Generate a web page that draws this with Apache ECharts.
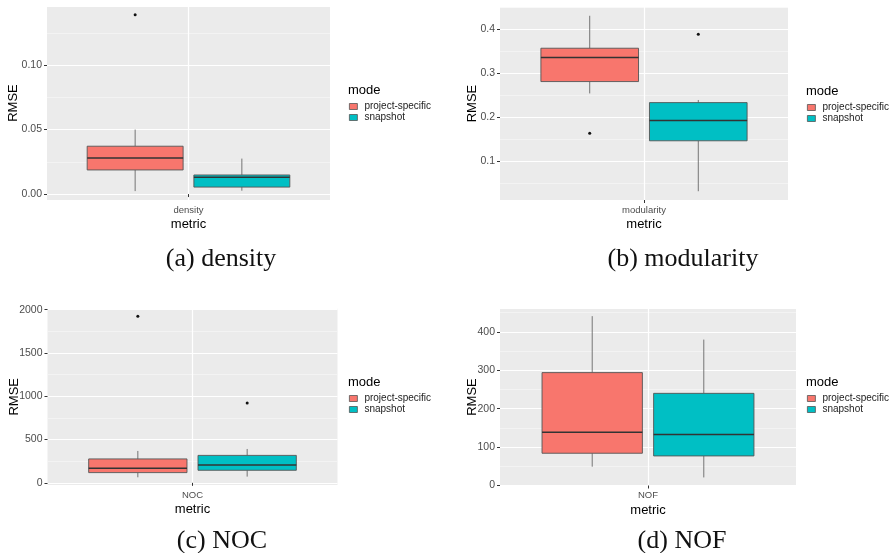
<!DOCTYPE html>
<html><head><meta charset="utf-8">
<script src="https://cdn.jsdelivr.net/npm/echarts@6/dist/echarts.min.js"></script>
<style>html,body{margin:0;padding:0;background:#fff}#c{width:894px;height:553px}</style>
</head><body><div id="c"></div>
<script>
// ---- data ----
const metrics = ['density', 'modularity', 'NOC', 'NOF'];
const modes = ['project-specific', 'snapshot'];
const captions = ['(a) density', '(b) modularity', '(c) NOC', '(d) NOF'];
// box stats: [lower whisker, Q1, median, Q3, upper whisker]
const densityPS = [0.0023, 0.0187, 0.028, 0.0371, 0.050];
const densitySnap = [0.0026, 0.0054, 0.013, 0.0148, 0.0275];
const densityPSOut = [0.139];
const densitySnapOut = [];
const modularityPS = [0.254, 0.281, 0.336, 0.357, 0.431];
const modularitySnap = [0.031, 0.146, 0.192, 0.233, 0.239];
const modularityPSOut = [0.163];
const modularitySnapOut = [0.389];
const nocPS = [64, 118, 168, 276, 368];
const nocSnap = [72, 145, 207, 317, 391];
const nocPSOut = [1923];
const nocSnapOut = [923];
const nofPS = [49, 84, 139, 294, 441];
const nofSnap = [21, 77, 133, 240, 380];
const nofPSOut = [];
const nofSnapOut = [];
const tickSteps = [0.05, 0.1, 500, 100];
const tickDecimals = [2, 1, 0, 0];

const boxes = [[densityPS, densitySnap], [modularityPS, modularitySnap], [nocPS, nocSnap], [nofPS, nofSnap]];
const outliers = [[densityPSOut, densitySnapOut], [modularityPSOut, modularitySnapOut], [nocPSOut, nocSnapOut], [nofPSOut, nofSnapOut]];

// ---- layout / style ----
const colors = ['#F8766D', '#00BFC4'];
const FONT = 'Liberation Sans, Arial, sans-serif';
const panels = [
  {left: 47, top: 6, width: 283, height: 194, ymin: -0.0046, ymax: 0.1458, showMin: false, lx: 348, ly: 84, ng: 27},
  {left: 500, top: 7, width: 288, height: 193, ymin: 0.011, ymax: 0.451, showMin: false, lx: 806, ly: 85, ng: 21},
  {left: 47.5, top: 308.5, width: 290, height: 176.5, ymin: -25, ymax: 2013, showMin: false, lx: 348, ly: 376, ng: 27},
  {left: 500, top: 308.5, width: 296, height: 177, ymin: 0, ymax: 461, showMin: true, lx: 806, ly: 376, ng: 21}
];
const capPos = [[221, 259], [683, 259], [222, 541], [682, 541]];
const INNER = 0.019, OUTER = 0.358;

function boxRender(side) {
  return function (params, api) {
    const cat = api.value(0);
    const c = api.coord([cat, api.value(3)]);
    const bw = api.size([1, 0])[0];
    const xl = side < 0 ? c[0] - OUTER * bw : c[0] + INNER * bw;
    const xr = side < 0 ? c[0] - INNER * bw : c[0] + OUTER * bw;
    const xm = (xl + xr) / 2;
    const y = i => api.coord([cat, api.value(i)])[1];
    const yLo = y(1), yQ1 = y(2), yMed = y(3), yQ3 = y(4), yHi = y(5);
    const col = colors[side < 0 ? 0 : 1];
    return {type: 'group', children: [
      {type: 'line', shape: {x1: xm, y1: yHi, x2: xm, y2: yQ3}, style: {stroke: '#666', lineWidth: 0.9}},
      {type: 'line', shape: {x1: xm, y1: yQ1, x2: xm, y2: yLo}, style: {stroke: '#666', lineWidth: 0.9}},
      {type: 'rect', shape: {x: xl, y: yQ3, width: xr - xl, height: yQ1 - yQ3}, style: {fill: col, stroke: '#555', lineWidth: 0.9}},
      {type: 'line', shape: {x1: xl, y1: yMed, x2: xr, y2: yMed}, style: {stroke: '#333', lineWidth: 1.5}}
    ]};
  };
}
function outRender(params, api) {
  const cat = api.value(0);
  const side = api.value(2);
  const c = api.coord([cat, api.value(1)]);
  const bw = api.size([1, 0])[0];
  const x = c[0] + side * (INNER + OUTER) / 2 * bw;
  return {type: 'circle', shape: {cx: x, cy: c[1], r: 1.5}, style: {fill: '#111'}};
}

const grid = [], xAxis = [], yAxis = [], series = [], legend = [], title = [], graphic = [];
panels.forEach((p, i) => {
  grid.push({left: p.left, top: p.top, width: p.width, height: p.height, show: true, backgroundColor: '#EBEBEB', borderWidth: 0});
  xAxis.push({
    type: 'category', gridIndex: i, data: [metrics[i]], boundaryGap: true,
    name: 'metric', nameLocation: 'middle', nameGap: 18, nameMoveOverlap: false,
    nameTextStyle: {fontSize: 13, color: '#000', fontFamily: FONT},
    axisLine: {show: false},
    axisTick: {show: true, alignWithLabel: true, length: 3, lineStyle: {color: '#333'}},
    axisLabel: {margin: 5, fontSize: 9.5, color: '#4D4D4D', fontFamily: FONT},
    splitLine: {show: true, alignWithLabel: true, lineStyle: {color: '#fff', width: 1.2}}
  });
  const step = tickSteps[i], dec = tickDecimals[i];
  yAxis.push({
    type: 'value', gridIndex: i, min: p.ymin, max: p.ymax,
    minInterval: step, maxInterval: step, splitNumber: 3,
    name: 'RMSE', nameLocation: 'middle', nameGap: p.ng, nameMoveOverlap: false,
    nameTextStyle: {fontSize: 13, color: '#000', fontFamily: FONT},
    axisLine: {show: false},
    axisTick: {show: true, length: 3, lineStyle: {color: '#333'}},
    axisLabel: {margin: 5, fontSize: 10.5, color: '#4D4D4D', fontFamily: FONT,
      showMinLabel: p.showMin, showMaxLabel: false,
      formatter: v => Number(v).toFixed(dec)},
    splitLine: {show: true, lineStyle: {color: '#fff', width: 1.2}},
    minorTick: {show: false, splitNumber: 2},
    minorSplitLine: {show: true, lineStyle: {color: '#F6F6F6', width: 0.7}}
  });
  [-1, 1].forEach((side, k) => {
    series.push({
      type: 'custom', name: modes[k], xAxisIndex: i, yAxisIndex: i,
      itemStyle: {color: colors[k]},
      encode: {x: 0, y: [1, 2, 3, 4, 5]},
      renderItem: boxRender(side),
      data: [[metrics[i]].concat(boxes[i][k])], z: 3
    });
    if (outliers[i][k].length) {
      series.push({
        type: 'custom', name: modes[k] + ' outliers', xAxisIndex: i, yAxisIndex: i,
        encode: {x: 0, y: 1},
        renderItem: outRender,
        data: outliers[i][k].map(v => [metrics[i], v, side]), z: 4
      });
    }
  });
  title.push({text: 'mode', left: p.lx, top: p.ly, padding: 0,
    textStyle: {fontSize: 13, fontWeight: 'normal', color: '#000', fontFamily: FONT}});
  legend.push({data: modes, orient: 'vertical', left: p.lx + 1, top: p.ly + 17, padding: 0,
    itemWidth: 8, itemHeight: 6, itemGap: 0, icon: 'rect', selectedMode: false,
    itemStyle: {borderColor: '#555', borderWidth: 0.8},
    textStyle: {fontSize: 10, lineHeight: 11, color: '#222', fontFamily: FONT, padding: [0, 0, 0, 2]}});
  graphic.push({type: 'text', x: capPos[i][0], y: capPos[i][1], silent: true,
    style: {text: captions[i], fontSize: 26, fontFamily: 'Liberation Serif, Times New Roman, serif', fill: '#111', align: 'center', verticalAlign: 'middle'}});
});

const chart = echarts.init(document.getElementById('c'), null, {renderer: 'canvas'});
chart.setOption({animation: false, backgroundColor: '#fff', grid, xAxis, yAxis, series, legend, title, graphic});
</script>
</body></html>
